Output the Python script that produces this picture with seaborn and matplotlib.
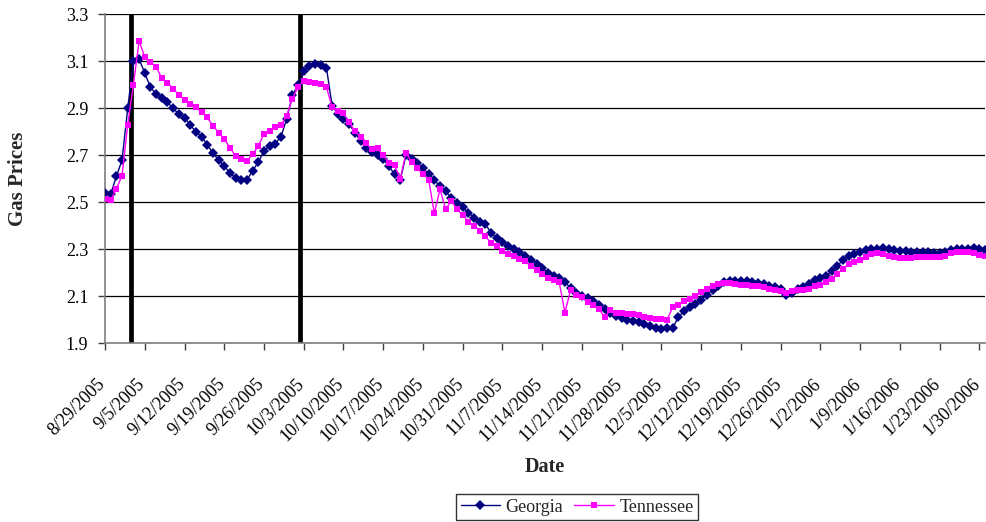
import pandas as pd
import seaborn as sns
import matplotlib.pyplot as plt
import matplotlib.dates as mdates
from matplotlib.ticker import FuncFormatter
from matplotlib.transforms import ScaledTranslation

# daily average prices, 8/29/2005 .. 1/31/2006
start_date = "2005-08-29"
georgia = [
    2.540, 2.535, 2.610, 2.680, 2.900, 3.100, 3.110, 3.050, 2.990, 2.960,
    2.945, 2.925, 2.900, 2.875, 2.860, 2.830, 2.800, 2.780, 2.745, 2.710,
    2.680, 2.655, 2.625, 2.605, 2.595, 2.595, 2.635, 2.670, 2.720, 2.740,
    2.750, 2.780, 2.855, 2.955, 3.000, 3.060, 3.078, 3.090, 3.083, 3.073,
    2.910, 2.876, 2.854, 2.833, 2.797, 2.761, 2.733, 2.714, 2.700, 2.683,
    2.654, 2.619, 2.594, 2.700, 2.686, 2.668, 2.644, 2.620, 2.594, 2.569,
    2.548, 2.517, 2.496, 2.479, 2.456, 2.435, 2.418, 2.408, 2.369, 2.348,
    2.330, 2.315, 2.301, 2.287, 2.270, 2.256, 2.239, 2.221, 2.200, 2.186,
    2.177, 2.160, 2.136, 2.114, 2.103, 2.093, 2.079, 2.064, 2.046, 2.029,
    2.017, 2.007, 2.000, 1.996, 1.989, 1.981, 1.974, 1.966, 1.962, 1.964,
    1.964, 2.014, 2.036, 2.054, 2.069, 2.086, 2.107, 2.129, 2.146, 2.160,
    2.167, 2.167, 2.166, 2.166, 2.163, 2.158, 2.152, 2.145, 2.138, 2.133,
    2.105, 2.115, 2.133, 2.141, 2.154, 2.169, 2.177, 2.186, 2.207, 2.231,
    2.254, 2.271, 2.281, 2.289, 2.296, 2.300, 2.303, 2.307, 2.300, 2.296,
    2.293, 2.293, 2.290, 2.290, 2.290, 2.287, 2.286, 2.286, 2.290, 2.297,
    2.301, 2.303, 2.303, 2.304, 2.300, 2.297,
]
tennessee = [
    2.515, 2.510, 2.557, 2.614, 2.829, 3.001, 3.186, 3.119, 3.097, 3.076,
    3.029, 3.009, 2.983, 2.957, 2.937, 2.919, 2.904, 2.883, 2.861, 2.826,
    2.797, 2.769, 2.733, 2.697, 2.686, 2.676, 2.704, 2.740, 2.790, 2.804,
    2.819, 2.829, 2.869, 2.940, 2.990, 3.016, 3.012, 3.007, 3.004, 2.990,
    2.904, 2.890, 2.880, 2.840, 2.804, 2.780, 2.751, 2.726, 2.729, 2.700,
    2.669, 2.657, 2.600, 2.709, 2.672, 2.644, 2.620, 2.597, 2.454, 2.555,
    2.470, 2.507, 2.470, 2.446, 2.418, 2.400, 2.380, 2.355, 2.327, 2.313,
    2.292, 2.282, 2.273, 2.259, 2.249, 2.228, 2.211, 2.197, 2.179, 2.169,
    2.160, 2.031, 2.126, 2.107, 2.095, 2.075, 2.063, 2.046, 2.011, 2.043,
    2.031, 2.029, 2.026, 2.026, 2.021, 2.014, 2.007, 2.003, 2.003, 2.000,
    2.054, 2.064, 2.079, 2.089, 2.100, 2.117, 2.131, 2.146, 2.154, 2.157,
    2.157, 2.154, 2.150, 2.150, 2.146, 2.142, 2.138, 2.130, 2.126, 2.121,
    2.114, 2.121, 2.126, 2.129, 2.131, 2.143, 2.150, 2.160, 2.174, 2.197,
    2.217, 2.236, 2.246, 2.254, 2.269, 2.279, 2.283, 2.279, 2.271, 2.269,
    2.264, 2.264, 2.264, 2.269, 2.269, 2.269, 2.269, 2.269, 2.271, 2.283,
    2.289, 2.289, 2.289, 2.286, 2.274, 2.271,
]
# the two thick black markers (hurricane landfalls)
event_marks = ["2005-09-02 14:00", "2005-10-02 10:00"]
y_ticks = [1.9, 2.1, 2.3, 2.5, 2.7, 2.9, 3.1, 3.3]

dates = pd.date_range(start_date, periods=len(georgia), freq="D")
df = pd.DataFrame({"Date": dates, "Georgia": georgia, "Tennessee": tennessee})
long_df = df.melt("Date", var_name="State", value_name="Price")

sns.set_theme(style="white")
plt.rcParams["font.family"] = ["Liberation Serif", "DejaVu Serif"]

fig = plt.figure(figsize=(9.87, 5.22), dpi=100)
ax = fig.add_axes([0.1064, 0.3423, 0.8916, 0.6303])

for d in event_marks:
    ax.axvline(pd.Timestamp(d), color="black", lw=3.4, zorder=1.5, solid_capstyle="butt")

sns.lineplot(data=long_df, x="Date", y="Price", hue="State", style="State",
             markers={"Georgia": "D", "Tennessee": "s"}, dashes=False,
             palette={"Georgia": "#000080", "Tennessee": "#FF00FF"},
             markersize=5, markeredgewidth=0, linewidth=1, ax=ax, zorder=3)

ax.set_ylim(1.9, 3.3)
ax.set_yticks(y_ticks)
ax.set_yticklabels([f"{v:.1f}" for v in y_ticks])
ax.set_xlim(pd.Timestamp("2005-08-29"), pd.Timestamp("2006-01-31"))
ax.set_xticks(pd.date_range("2005-08-29", "2006-01-30", freq="7D"))
ax.xaxis.set_major_formatter(FuncFormatter(
    lambda v, _: f"{mdates.num2date(v).month}/{mdates.num2date(v).day}/{mdates.num2date(v).year}"))

for v in y_ticks:
    ax.axhline(v, color="black", lw=0.9, zorder=1)

for s in ["top", "right"]:
    ax.spines[s].set_visible(False)
for s in ["left", "bottom"]:
    ax.spines[s].set_color("#7f7f7f")
    ax.spines[s].set_linewidth(1.2)

ax.tick_params(axis="both", which="major", direction="out", length=5, width=1,
               color="#404040", labelsize=13, labelcolor="black", bottom=True, left=True)
ax.tick_params(axis="y", pad=7)
ax.tick_params(axis="x", pad=18)
shift = ScaledTranslation(-8 / 100, 0, fig.dpi_scale_trans)
for lab in ax.get_xticklabels():
    lab.set_rotation(45)
    lab.set_ha("right")
    lab.set_va("top")
    lab.set_rotation_mode("anchor")
    lab.set_transform(lab.get_transform() + shift)

ax.set_xlabel("Date", fontsize=14.5, fontweight="bold")
ax.xaxis.set_label_coords(0.5, -(467 - 343) / 329, transform=ax.transAxes)
ax.xaxis.label.set_va("center")
ax.set_ylabel("Gas Prices", fontsize=15, fontweight="bold")
ax.yaxis.set_label_coords(-(105 - 18) / 880, 0.5, transform=ax.transAxes)
ax.yaxis.label.set_va("center")

handles, labels = ax.get_legend_handles_labels()
ax.legend_.remove()
leg = fig.legend(handles, labels, loc="center", bbox_to_anchor=(577 / 987, 1 - 507 / 522),
                 ncol=2, frameon=True, fancybox=False, fontsize=13, handlelength=2.2,
                 handletextpad=0.3, columnspacing=0.6, borderpad=0.25)
leg.get_frame().set_edgecolor("black")
leg.get_frame().set_linewidth(1)

fig.savefig("out.png", dpi=100)
